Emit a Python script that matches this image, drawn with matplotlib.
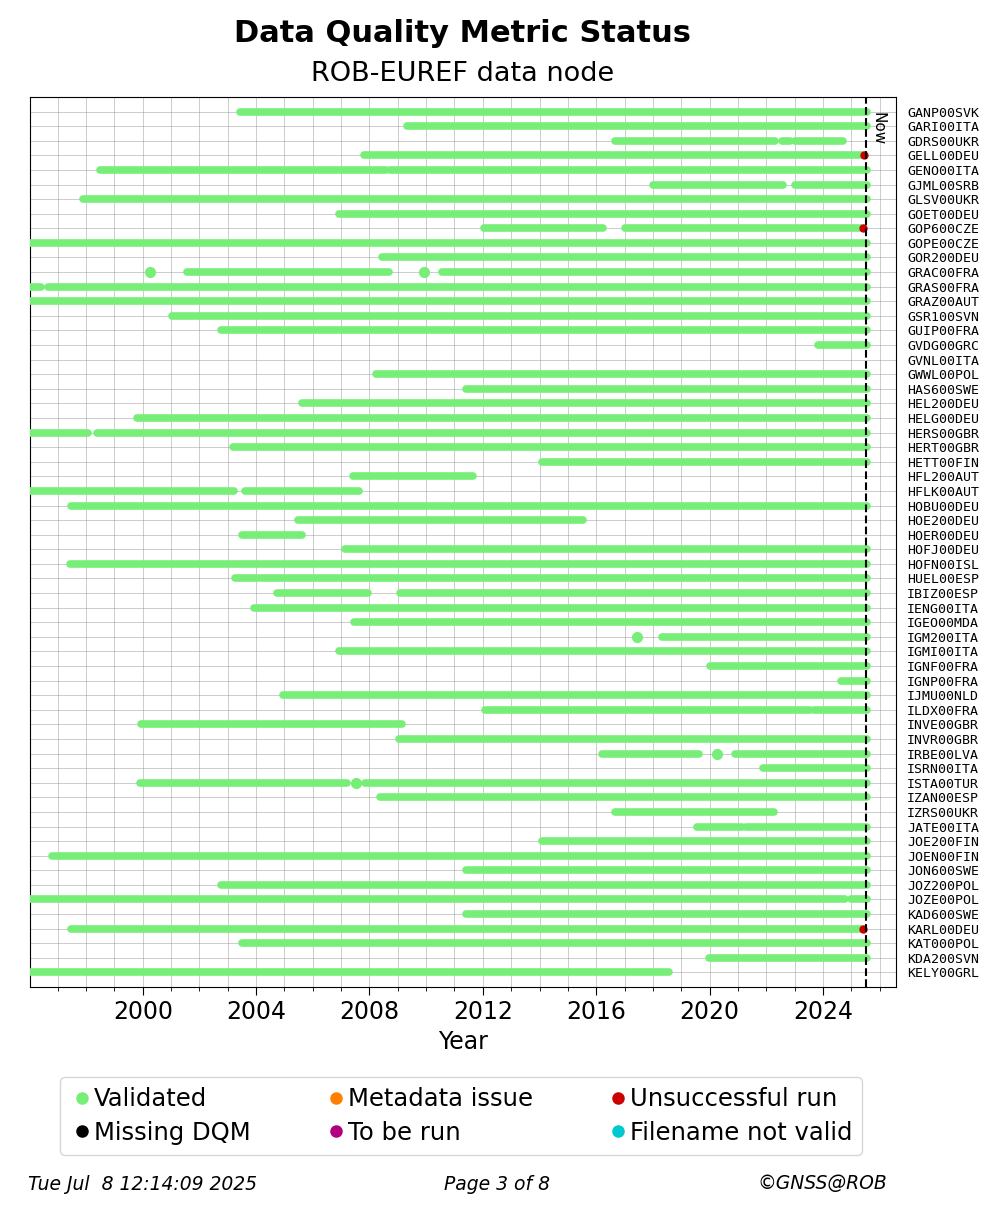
import matplotlib
matplotlib.use("Agg")
import matplotlib.pyplot as plt
from matplotlib.lines import Line2D
from matplotlib.ticker import MultipleLocator

stations = ["GANP00SVK","GARI00ITA","GDRS00UKR","GELL00DEU","GENO00ITA","GJML00SRB","GLSV00UKR","GOET00DEU",
"GOP600CZE","GOPE00CZE","GOR200DEU","GRAC00FRA","GRAS00FRA","GRAZ00AUT","GSR100SVN","GUIP00FRA","GVDG00GRC",
"GVNL00ITA","GWWL00POL","HAS600SWE","HEL200DEU","HELG00DEU","HERS00GBR","HERT00GBR","HETT00FIN","HFL200AUT",
"HFLK00AUT","HOBU00DEU","HOE200DEU","HOER00DEU","HOFJ00DEU","HOFN00ISL","HUEL00ESP","IBIZ00ESP","IENG00ITA",
"IGEO00MDA","IGM200ITA","IGMI00ITA","IGNF00FRA","IGNP00FRA","IJMU00NLD","ILDX00FRA","INVE00GBR","INVR00GBR",
"IRBE00LVA","ISRN00ITA","ISTA00TUR","IZAN00ESP","IZRS00UKR","JATE00ITA","JOE200FIN","JOEN00FIN","JON600SWE",
"JOZ200POL","JOZE00POL","KAD600SWE","KARL00DEU","KAT000POL","KDA200SVN","KELY00GRL"]

E = 2025.55
S = 1995.9
# validated segments (start, end) per station
segments = [
 [(2003.42,E)], [(2009.32,E)], [(2016.66,2022.31),(2022.55,2022.84),(2023.01,2024.71)], [(2007.8,2025.45)],
 [(1998.48,2008.58),(2008.72,E)], [(2018.0,2022.59),(2023.01,E)], [(1997.88,E)], [(2006.92,E)],
 [(2012.04,2016.24),(2017.01,2025.4)], [(S,E)], [(2008.44,E)],
 [(2000.25,2000.25),(2001.55,2008.68),(2009.92,2009.92),(2010.55,E)], [(S,1996.4),(1996.65,E)], [(S,E)],
 [(2001.02,E)], [(2002.75,E)], [(2023.83,E)], [], [(2008.22,E)], [(2011.4,E)], [(2005.61,E)], [(1999.79,E)],
 [(S,1998.06),(1998.38,2001.48),(2001.55,E)], [(2003.18,E)], [(2014.08,2014.65),(2014.72,E)],
 [(2007.41,2011.65)], [(S,2003.21),(2003.6,2007.62)], [(1997.46,E)], [(2005.47,2015.53)],
 [(2003.5,2005.61)], [(2007.13,E)], [(1997.42,E)], [(2003.25,2004.06),(2004.17,E)],
 [(2004.73,2007.94),(2009.07,E)], [(2003.92,E)], [(2007.45,E)], [(2017.44,2017.44),(2018.32,E)],
 [(2006.92,E)], [(2020.01,E)], [(2024.64,E)], [(2004.94,2005.97),(2006.04,E)], [(2012.07,2023.54),(2023.68,E)],
 [(1999.93,2009.14)], [(2009.04,E)], [(2016.2,2019.63),(2020.26,2020.26),(2020.9,E)], [(2021.88,E)],
 [(1999.89,2007.2),(2007.52,2007.52),(2007.84,E)], [(2008.37,E)], [(2016.66,2022.27)],
 [(2019.55,2021.14),(2021.28,E)], [(2014.08,E)], [(1996.79,E)], [(2011.4,E)], [(2002.75,E)],
 [(S,2024.78),(2024.99,E)], [(2011.4,E)], [(1997.46,2025.4)], [(2003.5,2008.12),(2008.22,E)],
 [(2019.98,E)], [(S,2018.57)],
]
unsuccessful = {"GELL00DEU":2025.45, "GOP600CZE":2025.4, "KARL00DEU":2025.4}
now = 2025.52

GREEN = "#77ee77"
fig = plt.figure(figsize=(10.01,12.14), dpi=100)
ax = fig.add_axes([30/1001, 1-987/1214, 866/1001, 890/1214])
for i,(st,segs) in enumerate(zip(stations,segments)):
    for a,b in segs:
        if a == b:
            ax.plot(a,i,"o",color=GREEN,ms=7,zorder=3)
        else:
            ax.plot([a,b],[i,i],color=GREEN,lw=5.5,solid_capstyle="round",zorder=3)
    if st in unsuccessful:
        ax.plot(unsuccessful[st],i,"o",color="#cc0000",ms=5,zorder=4)
ax.axvline(now,color="black",ls="--",lw=1.5,zorder=5)
ax.text(now+0.15,0,"Now",rotation=-90,va="top",ha="left",fontsize=11)
ax.set_xlim(1996.02,2026.58)
ax.set_ylim(len(stations)-0.0,-1.0)
ax.set_yticks(range(len(stations)))
ax.set_yticklabels(stations,fontfamily="DejaVu Sans Mono",fontsize=9.5)
ax.yaxis.tick_right()
ax.tick_params(axis="y",length=0,pad=8)
ax.xaxis.set_major_locator(MultipleLocator(4))
ax.xaxis.set_minor_locator(MultipleLocator(1))
ax.tick_params(axis="x",which="major",labelsize=17,length=6)
ax.tick_params(axis="x",which="minor",length=3)
ax.grid(True,which="both",color="#888888",lw=0.5,alpha=0.6,zorder=0)
ax.set_xlabel("Year",fontsize=17)
fig.text(0.462,1-33/1214,"Data Quality Metric Status",ha="center",va="center",fontsize=22,fontweight="bold")
fig.text(0.462,1-74/1214,"ROB-EUREF data node",ha="center",va="center",fontsize=19.5)

labels = ["Validated","Missing DQM","Metadata issue","To be run","Unsuccessful run","Filename not valid"]
colors = [GREEN,"black","#ff8000","#b0007f","#cc0000","#00c8d0"]
handles=[Line2D([],[],ls="none",marker="o",color=c,ms=8) for c in colors]
fig.legend(handles,labels,ncol=3,loc="center",bbox_to_anchor=(461/1001,1-1116/1214),
           fontsize=17.5,handletextpad=0.0,columnspacing=3.0,borderpad=0.4,handlelength=1.0,
           labelspacing=0.4,fancybox=True,edgecolor="#cccccc")
fig.text(28/1001,1-1184/1214,"Tue Jul  8 12:14:09 2025",fontsize=13.5,style="italic",va="center")
fig.text(497/1001,1-1184/1214,"Page 3 of 8",fontsize=13.5,style="italic",va="center",ha="center")
fig.text(887/1001,1-1184/1214,"©GNSS@ROB",fontsize=13.5,style="italic",va="center",ha="right")
fig.savefig("out.png",dpi=100)
